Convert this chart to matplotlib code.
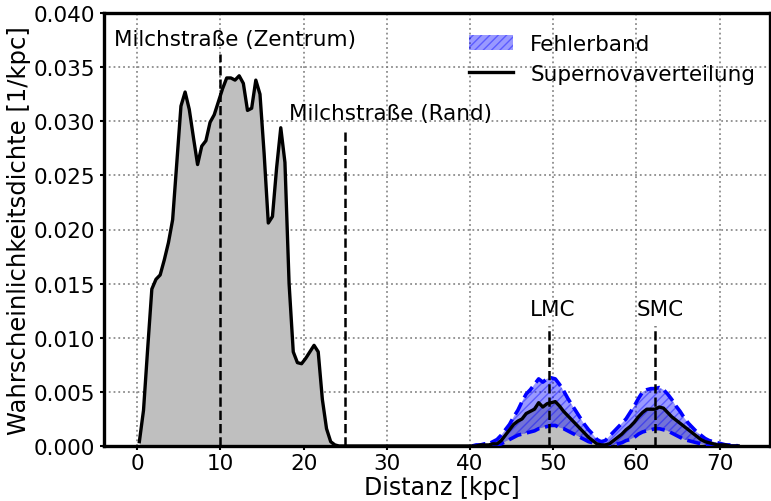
import numpy as np
import matplotlib.pyplot as plt
from matplotlib.ticker import FormatStrFormatter

# Milchstrasse: Bins zu 0.5 kpc, Mittelpunkte 0.25 ... 24.75
mw_dichte = [0.0004, 0.0033, 0.0090, 0.0145, 0.0154, 0.0158, 0.0172, 0.0188,
             0.0209, 0.0262, 0.0314, 0.0327, 0.0311, 0.0285, 0.0260, 0.0277,
             0.0282, 0.0299, 0.0306, 0.0318, 0.0330, 0.0340, 0.0340, 0.0338,
             0.0342, 0.0335, 0.0310, 0.0312, 0.0338, 0.0325, 0.0270, 0.0206,
             0.0212, 0.0257, 0.0294, 0.0262, 0.0150, 0.0087, 0.0077, 0.0076,
             0.0081, 0.0087, 0.0093, 0.0087, 0.0043, 0.0016, 0.0004, 0.0001,
             0.0000, 0.0000]

# Magellansche Wolken: Bins zu 0.5 kpc, Mittelpunkte 40.25 ... 72.25
mc_dichte = [0.0000, 0.0000, 0.0001, 0.0001, 0.0001, 0.0002, 0.0002, 0.0005,
             0.0010, 0.0015, 0.0020, 0.0023, 0.0025, 0.0030, 0.0032, 0.0034,
             0.0040, 0.0036, 0.0039, 0.0040, 0.0041, 0.0037, 0.0032, 0.0028,
             0.0024, 0.0020, 0.0016, 0.0012, 0.0008, 0.0005, 0.0002, 0.0001,
             0.0001, 0.0002, 0.0005, 0.0008, 0.0011, 0.0015, 0.0018, 0.0022,
             0.0027, 0.0031, 0.0034, 0.0034, 0.0034, 0.0036, 0.0035, 0.0031,
             0.0027, 0.0024, 0.0021, 0.0018, 0.0015, 0.0012, 0.0009, 0.0006,
             0.0004, 0.0003, 0.0002, 0.0001, 0.0001, 0.0001, 0.0000, 0.0000,
             0.0000]
mc_oben = [0.0000, 0.0001, 0.0001, 0.0002, 0.0002, 0.0004, 0.0006, 0.0010,
           0.0015, 0.0020, 0.0027, 0.0033, 0.0041, 0.0048, 0.0052, 0.0057,
           0.0062, 0.0059, 0.0062, 0.0063, 0.0062, 0.0057, 0.0051, 0.0044,
           0.0038, 0.0032, 0.0026, 0.0020, 0.0015, 0.0011, 0.0006, 0.0004,
           0.0005, 0.0009, 0.0013, 0.0017, 0.0021, 0.0025, 0.0031, 0.0037,
           0.0044, 0.0050, 0.0052, 0.0053, 0.0053, 0.0054, 0.0052, 0.0048,
           0.0043, 0.0037, 0.0032, 0.0026, 0.0021, 0.0017, 0.0013, 0.0010,
           0.0007, 0.0005, 0.0004, 0.0003, 0.0002, 0.0001, 0.0001, 0.0001,
           0.0000]
mc_unten = [0.0000, 0.0000, 0.0000, 0.0000, 0.0000, 0.0000, 0.0001, 0.0002,
            0.0004, 0.0006, 0.0008, 0.0010, 0.0011, 0.0012, 0.0013, 0.0014,
            0.0016, 0.0017, 0.0018, 0.0019, 0.0019, 0.0017, 0.0016, 0.0014,
            0.0012, 0.0010, 0.0008, 0.0006, 0.0004, 0.0003, 0.0002, 0.0001,
            0.0000, 0.0000, 0.0001, 0.0002, 0.0003, 0.0005, 0.0006, 0.0008,
            0.0011, 0.0013, 0.0014, 0.0015, 0.0016, 0.0016, 0.0015, 0.0014,
            0.0012, 0.0010, 0.0008, 0.0006, 0.0005, 0.0004, 0.0003, 0.0002,
            0.0001, 0.0001, 0.0000, 0.0000, 0.0000, 0.0000, 0.0000, 0.0000,
            0.0000]

# Markierungen: (Position, Linienhoehe, Beschriftung, Text-x, Text-y)
marker = [
    (10.0, 0.0362, 'Milchstraße (Zentrum)', 11.8, 0.0376),
    (25.0, 0.0290, 'Milchstraße (Rand)', 30.4, 0.0308),
    (49.5, 0.0111, 'LMC', 49.9, 0.0127),
    (62.2, 0.0111, 'SMC', 62.8, 0.0127),
]

x_mw = 0.25 + 0.5 * np.arange(len(mw_dichte))
x_mc = 40.25 + 0.5 * np.arange(len(mc_dichte))
x_leer = np.arange(x_mw[-1] + 0.5, x_mc[0], 0.5)
x = np.concatenate([x_mw, x_leer, x_mc])
y = np.concatenate([mw_dichte, np.zeros(len(x_leer)), mc_dichte])

fs = 15.5
fig = plt.figure(figsize=(7.71, 5.02), dpi=100)
ax = fig.add_axes([104 / 771, 55 / 502, 665.5 / 771, 433 / 502])

ax.grid(True, color='gray', linestyle=':', linewidth=1.3, alpha=0.9)
ax.set_axisbelow(True)

ax.fill_between(x, 0, y, color='#bfbfbf', lw=0, zorder=2)
band = ax.fill_between(x_mc, mc_unten, mc_oben, facecolor='blue', edgecolor='blue',
                       alpha=0.4, hatch='////', lw=0, zorder=3, label='Fehlerband')
ax.plot(x_mc, mc_oben, '--', color='blue', lw=2.6, zorder=4)
ax.plot(x_mc, mc_unten, '--', color='blue', lw=2.6, zorder=4)
ax.plot(x, y, color='black', lw=2.4, zorder=5, label='Supernovaverteilung')

for pos, hoehe, text, tx, ty in marker:
    ax.plot([pos, pos], [0, hoehe], '--', color='black', lw=1.8, zorder=6)
    ax.text(tx, ty, text, ha='center', va='center', fontsize=fs, zorder=7)

ax.set_xlim(-4, 76)
ax.set_ylim(0, 0.04)
ax.set_xticks(np.arange(0, 80, 10))
ax.set_yticks(np.arange(0, 0.0401, 0.005))
ax.yaxis.set_major_formatter(FormatStrFormatter('%.3f'))
ax.tick_params(labelsize=fs, width=1.5, length=3)
ax.tick_params(axis='x', pad=2)
for s in ax.spines.values():
    s.set_linewidth(2.4)

ax.set_xlabel('Distanz [kpc]', fontsize=17, labelpad=1.5)
ax.xaxis.set_label_coords(0.508, -0.068)
ax.set_ylabel('Wahrscheinlichkeitsdichte [1/kpc]', fontsize=17.5, labelpad=1.5)

ax.legend(loc='upper right', bbox_to_anchor=(1.0 + 3 / 665.5, 1.0 - 4 / 433),
          frameon=False, fontsize=fs, handlelength=2.05, handleheight=0.73,
          borderaxespad=0.4, handletextpad=0.8, labelspacing=0.46)

fig.savefig('out.png', dpi=100)
